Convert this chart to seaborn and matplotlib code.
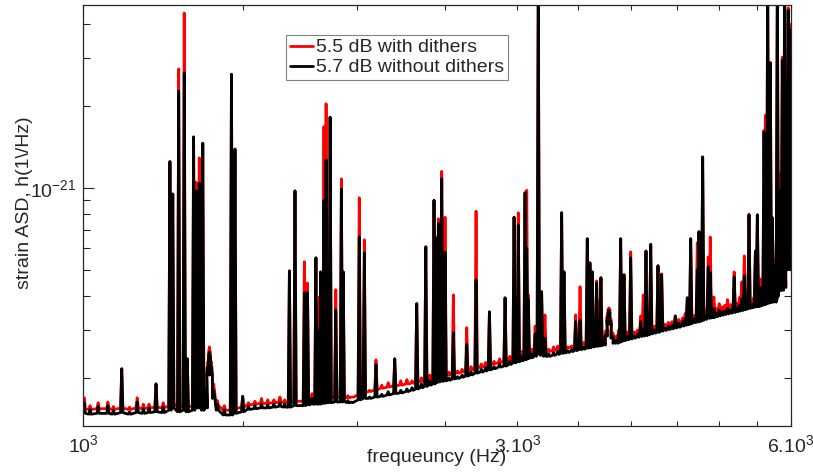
"""Strain ASD with and without dithers, log-log spectrum."""
import matplotlib
matplotlib.use('Agg')
import matplotlib.pyplot as plt
import matplotlib.ticker as mticker
import numpy as np
import seaborn as sns

# line frequencies (Hz)
peak_hz = np.array([
    1003, 1018, 1039, 1065, 1080, 1103, 1125, 1147, 1165, 1182, 1203, 1225,
    1246, 1255, 1274, 1292, 1302, 1323, 1331, 1342, 1354,
    1366, 1372, 1377, 1383, 1392, 1405, 1430, 1456, 1469, 1498,
    1520, 1545, 1571, 1596, 1621, 1646, 1666, 1686, 1710, 1751, 1765, 1785,
    1803, 1819, 1825, 1840, 1850, 1869, 1896, 1923, 1932, 1955, 1980,
    2012, 2038, 2065, 2099, 2130, 2165, 2201, 2235, 2270, 2300, 2327, 2355,
    2381, 2405, 2431, 2443, 2458, 2479, 2500, 2525, 2553, 2580, 2610, 2641,
    2670, 2704, 2740, 2770, 2797, 2830, 2870, 2910, 2945, 2977, 3009, 3035,
    3061, 3074, 3086, 3110, 3140, 3165, 3192, 3219, 3250, 3290, 3325, 3358,
    3378, 3410, 3445, 3479, 3518, 3550, 3583, 3607, 3629, 3669, 3690, 3709,
    3740, 3760, 3775, 3785, 3797, 3815, 3835, 3860, 3880, 3899, 3932, 3965,
    3999, 4035, 4070, 4102, 4128, 4157, 4180, 4207, 4245, 4285, 4325, 4360,
    4400, 4440, 4477, 4515, 4560, 4590, 4615, 4635, 4655, 4700, 4733, 4753,
    4775, 4798, 4830, 4866, 4891, 4915, 4936, 4970, 5003, 5040, 5075, 5110,
    5150, 5196, 5230, 5265, 5297, 5331, 5360, 5395, 5430, 5460, 5483, 5510,
    5530, 5548, 5575, 5604, 5623, 5640, 5656, 5675, 5694, 5710, 5723, 5745,
    5762, 5780, 5796, 5815, 5834, 5850, 5869, 5887, 5904, 5920, 5934, 5946,
    5958, 5972, 5984, 5995])

# peak heights, units of 1e-22 / sqrt(Hz)
tip_dither = np.array([
    1.69, 1.58, 1.62, 1.63, 1.57, 2.16, 1.56, 1.69, 1.60, 1.60, 1.90, 1.62,
    12.5, 9.5, 27.4, 44.0, 2.35, 15.4, 10.5, 12.9, 14.6,
    1.85, 2.30, 2.60, 2.30, 1.90, 1.65, 1.58, 26.2, 13.9, 1.71,
    1.62, 1.64, 1.68, 1.66, 1.66, 1.70, 1.66, 4.95, 9.75, 5.35, 4.47, 1.75,
    5.53, 3.97, 4.91, 16.8, 20.4, 18.2, 4.22, 10.8, 4.91, 1.72, 1.70,
    9.2, 6.44, 1.80, 2.33, 1.88, 1.92, 2.35, 1.95, 1.97, 1.95, 3.75, 2.0,
    6.07, 2.05, 9.0, 6.55, 7.7, 11.5, 7.8, 2.1, 4.04, 2.12, 2.15, 3.06,
    2.2, 8.2, 2.25, 2.28, 3.50, 2.3, 2.35, 3.94, 2.4, 7.8, 8.1, 2.5,
    9.6, 9.8, 4.04, 2.55, 3.1, 60, 4.15, 3.41, 2.55, 2.6, 2.62, 8.1,
    4.91, 2.6, 2.62, 3.41, 4.33, 2.7, 6.5, 5.3, 4.91, 4.55, 3.84, 4.67,
    2.85, 3.0, 3.45, 3.62, 3.35, 2.95, 2.85, 2.85, 3.0, 6.5, 4.79, 2.95,
    5.82, 2.95, 3.0, 3.38, 4.04, 5.86, 3.05, 6.2, 3.1, 5.17, 4.83, 3.15,
    3.2, 3.22, 3.38, 3.28, 3.32, 3.45, 3.94, 3.35, 6.5, 3.4, 6.28, 6.9,
    3.6, 13.0, 3.55, 5.57, 6.6, 3.55, 3.97, 3.6, 3.75, 3.65, 3.7, 3.88,
    3.72, 4.91, 3.75, 3.95, 4.51, 5.62, 3.8, 8.0, 3.85, 3.95, 5.86, 7.96,
    4.2, 4.63, 3.9, 16.3, 18.5, 7.0, 60, 6.0, 29.0, 7.5, 7.76, 4.0,
    5.44, 4.0, 60, 7.5, 11.35, 6.5, 30.3, 9.0, 60, 10.0, 12.15, 10.0,
    46, 15, 22.3, 40])

tip_nodither = np.array([
    1.62, 1.53, 1.57, 1.58, 1.52, 2.16, 1.50, 1.63, 1.54, 1.55, 1.90, 1.56,
    12.5, 9.5, 22.7, 26.5, 2.35, 15.4, 9.75, 10.4, 14.6,
    1.80, 2.20, 2.49, 2.20, 1.80, 1.60, 1.52, 26.2, 13.9, 1.71,
    1.57, 1.58, 1.60, 1.59, 1.60, 1.62, 1.60, 4.95, 9.75, 4.11, 4.11, 1.68,
    5.53, 3.0, 4.91, 9.0, 12.7, 18.2, 3.56, 9.9, 4.91, 1.65, 1.62,
    6.6, 5.77, 1.70, 2.24, 1.74, 1.78, 2.35, 1.80, 1.82, 1.84, 3.75, 1.9,
    6.07, 1.95, 9.0, 6.55, 7.4, 10.8, 5.8, 2.0, 2.93, 2.02, 2.05, 2.65,
    2.1, 4.59, 2.15, 2.18, 3.50, 2.2, 2.25, 3.94, 2.3, 7.8, 7.3, 2.4,
    9.6, 6.0, 3.88, 2.45, 2.9, 60, 4.15, 2.8, 2.45, 2.48, 2.5, 8.1,
    4.91, 2.52, 2.55, 3.22, 3.27, 2.6, 6.5, 5.3, 4.91, 4.47, 3.1, 4.67,
    2.75, 2.9, 3.35, 3.55, 3.25, 2.85, 2.75, 2.75, 2.9, 6.5, 4.79, 2.85,
    5.53, 2.85, 2.9, 3.22, 3.0, 5.86, 2.95, 6.2, 3.0, 5.17, 4.79, 3.05,
    3.1, 3.12, 3.38, 3.18, 3.22, 3.3, 3.94, 3.25, 6.5, 3.3, 5.0, 6.9,
    3.4, 13.0, 3.4, 5.13, 4.9, 3.4, 3.6, 3.45, 3.55, 3.5, 3.52, 3.6,
    3.56, 4.71, 3.6, 3.7, 3.9, 4.75, 3.65, 7.96, 3.7, 3.75, 5.86, 7.96,
    4.0, 4.3, 3.78, 16.1, 13.4, 6.5, 60, 5.5, 28.8, 7.2, 7.76, 3.8,
    5.2, 3.8, 60, 7.0, 9.8, 6.0, 29.5, 8.5, 60, 9.5, 12.15, 9.0,
    45, 14, 22.3, 38])

# noise floor under each line, same units
floor_dither = np.array([
    1.54, 1.53, 1.54, 1.54, 1.53, 1.55, 1.53, 1.55, 1.54, 1.55, 1.56, 1.55,
    1.58, 1.61, 1.56, 1.58, 1.56, 1.58, 1.61, 1.61, 1.58,
    1.61, 2.13, 2.44, 2.13, 1.75, 1.58, 1.52, 1.52, 1.54, 1.56,
    1.59, 1.60, 1.61, 1.61, 1.62, 1.63, 1.62, 1.62, 1.64, 1.64, 1.65, 1.66,
    1.67, 1.67, 1.68, 1.68, 1.69, 1.69, 1.70, 1.70, 1.71, 1.69, 1.70,
    1.74, 1.77, 1.78, 1.81, 1.83, 1.85, 1.87, 1.88, 1.90, 1.91, 1.93, 1.94,
    1.95, 1.97, 1.99, 2.01, 2.02, 2.03, 2.04, 2.05, 2.07, 2.08, 2.10, 2.12,
    2.14, 2.17, 2.19, 2.21, 2.23, 2.25, 2.28, 2.30, 2.33, 2.36, 2.38, 2.40,
    2.42, 2.44, 2.45, 2.46, 2.50, 2.55, 2.52, 2.50, 2.50, 2.52, 2.54, 2.56,
    2.57, 2.58, 2.60, 2.62, 2.64, 2.65, 2.67, 2.68, 2.70, 2.71, 2.72, 2.73,
    2.74, 2.95, 3.35, 3.55, 3.25, 2.90, 2.78, 2.78, 2.80, 2.82, 2.84, 2.86,
    2.88, 2.90, 2.92, 2.94, 2.95, 2.96, 2.98, 3.00, 3.02, 3.04, 3.07, 3.09,
    3.11, 3.13, 3.15, 3.17, 3.20, 3.22, 3.24, 3.25, 3.27, 3.29, 3.31, 3.33,
    3.35, 3.37, 3.39, 3.42, 3.43, 3.44, 3.45, 3.47, 3.49, 3.51, 3.53, 3.55,
    3.57, 3.59, 3.61, 3.63, 3.66, 3.68, 3.70, 3.72, 3.74, 3.76, 3.77, 3.78,
    3.79, 3.80, 3.82, 3.84, 3.86, 4.6, 3.88, 4.9, 3.90, 5.6, 4.3, 3.97,
    4.02, 4.07, 4.12, 5.1, 4.3, 4.7, 4.3, 5.6, 4.4, 6.1, 5.1, 5.6,
    5.1, 7.1, 6.1, 8.1])

floor_nodither = np.array([
    1.48, 1.47, 1.48, 1.48, 1.47, 1.49, 1.47, 1.49, 1.48, 1.49, 1.50, 1.49,
    1.52, 1.55, 1.50, 1.52, 1.50, 1.52, 1.55, 1.55, 1.52,
    1.55, 2.05, 2.35, 2.05, 1.68, 1.52, 1.46, 1.46, 1.48, 1.50,
    1.53, 1.54, 1.55, 1.55, 1.56, 1.57, 1.56, 1.56, 1.58, 1.58, 1.59, 1.60,
    1.60, 1.60, 1.61, 1.61, 1.62, 1.62, 1.63, 1.63, 1.64, 1.62, 1.63,
    1.66, 1.68, 1.68, 1.70, 1.71, 1.73, 1.75, 1.76, 1.78, 1.80, 1.82, 1.84,
    1.86, 1.88, 1.90, 1.92, 1.93, 1.94, 1.95, 1.96, 1.98, 1.99, 2.01, 2.03,
    2.05, 2.08, 2.10, 2.12, 2.14, 2.16, 2.19, 2.21, 2.24, 2.27, 2.29, 2.31,
    2.33, 2.35, 2.36, 2.37, 2.40, 2.45, 2.42, 2.40, 2.40, 2.42, 2.44, 2.46,
    2.47, 2.48, 2.50, 2.52, 2.54, 2.55, 2.57, 2.58, 2.60, 2.61, 2.62, 2.63,
    2.64, 2.85, 3.25, 3.45, 3.15, 2.80, 2.68, 2.68, 2.70, 2.72, 2.74, 2.76,
    2.78, 2.80, 2.82, 2.84, 2.85, 2.86, 2.88, 2.90, 2.92, 2.94, 2.97, 2.99,
    3.01, 3.03, 3.05, 3.07, 3.10, 3.12, 3.14, 3.15, 3.17, 3.19, 3.21, 3.22,
    3.24, 3.26, 3.28, 3.31, 3.32, 3.33, 3.34, 3.36, 3.38, 3.40, 3.42, 3.44,
    3.46, 3.48, 3.50, 3.52, 3.54, 3.56, 3.58, 3.60, 3.62, 3.64, 3.65, 3.66,
    3.67, 3.68, 3.70, 3.72, 3.74, 4.5, 3.76, 4.8, 3.78, 5.5, 4.2, 3.85,
    3.90, 3.95, 4.0, 5.0, 4.2, 4.6, 4.2, 5.5, 4.3, 6.0, 5.0, 5.5,
    5.0, 7.0, 6.0, 8.0])

labels = ['5.5 dB with dithers', '5.7 dB without dithers']
xtick_hz = [1000, 1500, 2000, 2500, 3000, 3500, 4000, 4500, 5000, 5500, 6000]
xtick_text = [r'$\mathregular{10^{3}}$', '', '', '', r'$\mathregular{3.10^{3}}$',
              '', '', '', '', '', r'$\mathregular{6.10^{3}}$']


def spikes(tips, floors):
    """Each line is drawn as floor -> tip -> floor."""
    hz = np.column_stack([peak_hz / 1.003, peak_hz, peak_hz * 1.003]).ravel()
    asd = np.column_stack([floors, tips, floors]).ravel() * 1e-22
    return hz, asd


sns.set_style('white')
plt.rcParams['font.family'] = ['Liberation Sans', 'DejaVu Sans']
plt.rcParams['mathtext.fontset'] = 'custom'
plt.rcParams['mathtext.rm'] = 'Liberation Sans'
plt.rcParams['font.size'] = 14

fig = plt.figure(figsize=(8.13, 4.73), dpi=100)
ax = fig.add_axes([83 / 813, 47 / 473, 708 / 813, 421 / 473])
ax.set_xscale('log')
ax.set_yscale('log')

x, y = spikes(tip_dither, floor_dither)
sns.lineplot(x=x, y=y, color='red', linewidth=2.0, sort=False,
             estimator=None, ax=ax, label=labels[0])
x, y = spikes(tip_nodither, floor_nodither)
sns.lineplot(x=x, y=y, color='black', linewidth=2.0, sort=False,
             estimator=None, ax=ax, label=labels[1])

ax.set_xlim(1000, 6000)
ax.set_ylim(1.33e-22, 4.71e-21)

ax.xaxis.set_major_locator(mticker.FixedLocator(xtick_hz))
ax.xaxis.set_major_formatter(mticker.FixedFormatter(xtick_text))
ax.xaxis.set_minor_locator(mticker.NullLocator())
ax.yaxis.set_major_locator(mticker.FixedLocator([1e-21]))
ax.yaxis.set_major_formatter(mticker.FixedFormatter([r'$\mathregular{10^{-21}}$']))
ax.yaxis.set_minor_locator(mticker.FixedLocator(
    [k * 1e-22 for k in range(2, 10)] + [2e-21, 3e-21, 4e-21]))
ax.yaxis.set_minor_formatter(mticker.NullFormatter())

ax.tick_params(which='both', direction='in', top=True, right=True,
               bottom=True, left=True, color='#262626', width=0.8,
               labelsize=14)
ax.tick_params(axis='x', which='major', length=3.6, pad=6)
ax.tick_params(axis='y', which='major', length=8, pad=5)
ax.tick_params(axis='y', which='minor', length=5)
for side in ax.spines.values():
    side.set_color('#262626')
    side.set_linewidth(0.9)

ax.set_xlabel('frequeuncy (Hz)', fontsize=14)
ax.set_ylabel('strain ASD, h(1\\/Hz)', fontsize=14)
ax.xaxis.set_label_coords(0.5, -0.055)
ax.yaxis.set_label_coords(-0.07, 0.53)

leg = ax.legend(loc='upper left', bbox_to_anchor=(0.287, 0.929),
                borderaxespad=0, fancybox=False, framealpha=1,
                edgecolor='#808080', fontsize=14, handlelength=1.2,
                handletextpad=0.15, labelspacing=0.12, borderpad=0.2)
leg.get_frame().set_linewidth(0.8)

fig.savefig('out.png', dpi=100)
